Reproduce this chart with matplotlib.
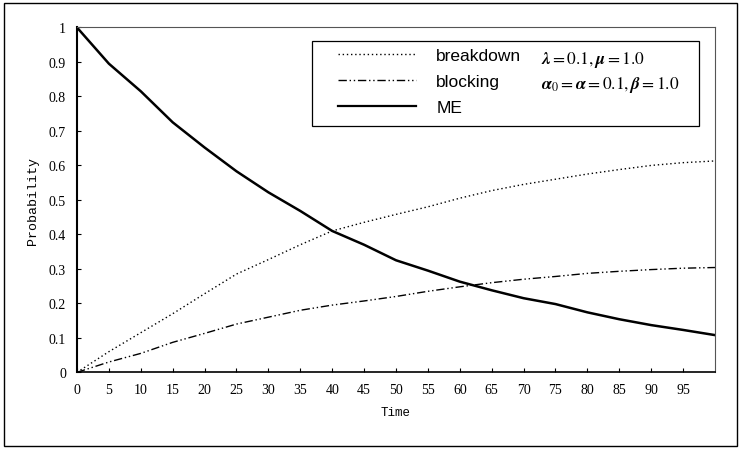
import numpy as np
import matplotlib
matplotlib.use("Agg")
import matplotlib.pyplot as plt
from matplotlib.lines import Line2D
from matplotlib.patches import Rectangle

plt.rcParams["mathtext.fontset"] = "stix"

# Time grid and the three probability curves
time = [0, 5, 10, 15, 20, 25, 30, 35, 40, 45, 50,
        55, 60, 65, 70, 75, 80, 85, 90, 95, 100]
me = [1.0, 0.895, 0.815, 0.725, 0.652, 0.583, 0.522, 0.468, 0.41, 0.37, 0.325,
      0.295, 0.263, 0.238, 0.215, 0.198, 0.174, 0.154, 0.137, 0.123, 0.108]
breakdown = [0.0, 0.06, 0.115, 0.17, 0.228, 0.285, 0.327, 0.37, 0.41, 0.435, 0.458,
             0.48, 0.505, 0.527, 0.545, 0.56, 0.575, 0.588, 0.6, 0.608, 0.613]
blocking = [0.0, 0.03, 0.055, 0.087, 0.113, 0.14, 0.16, 0.18, 0.195, 0.207, 0.22,
            0.235, 0.248, 0.26, 0.27, 0.278, 0.287, 0.293, 0.298, 0.302, 0.304]

xticks = list(range(0, 100, 5))
yticks = [0, 0.1, 0.2, 0.3, 0.4, 0.5, 0.6, 0.7, 0.8, 0.9, 1]
ytick_labels = ["0", "0.1", "0.2", "0.3", "0.4", "0.5", "0.6", "0.7", "0.8", "0.9", "1"]

DOT = (0, (1, 2))
DASHDOTDOT = (0, (6, 2, 1, 2, 1, 2))

fig = plt.figure(figsize=(7.41, 4.52), dpi=100)
ax = fig.add_axes([0.1039, 0.174, 0.861, 0.763])

ax.plot(time, breakdown, color="black", lw=1.0, ls=DOT)
ax.plot(time, blocking, color="black", lw=1.0, ls=DASHDOTDOT)
ax.plot(time, me, color="black", lw=1.8)

ax.set_xlim(0, 100)
ax.set_ylim(0, 1)
ax.set_xticks(xticks)
ax.set_xticklabels([str(t) for t in xticks], family="Liberation Serif", fontsize=10)
ax.set_yticks(yticks)
ax.set_yticklabels(ytick_labels, family="Liberation Serif", fontsize=10)
ax.tick_params(direction="in", length=3, width=0.8, pad=8)

ax.spines["left"].set_linewidth(1.5)
ax.spines["bottom"].set_linewidth(1.2)
for side in ("top", "right"):
    ax.spines[side].set_linewidth(0.8)
    ax.spines[side].set_color("#555555")

ax.set_xlabel("Time", family="Liberation Mono", fontsize=9, labelpad=7)
ax.set_ylabel("Probability", family="Liberation Mono", fontsize=9.5, labelpad=7)

# legend box with the parameter text inside
ax.add_patch(Rectangle((0.368, 0.713), 0.607, 0.247, transform=ax.transAxes,
                       fill=False, ec="black", lw=0.9, zorder=5))
handles = [Line2D([], [], color="black", lw=1.0, ls=DOT),
           Line2D([], [], color="black", lw=1.0, ls=DASHDOTDOT),
           Line2D([], [], color="black", lw=1.6)]
ax.legend(handles, ["breakdown", "blocking", "ME"], loc="upper left",
          bbox_to_anchor=(0.385, 0.985), frameon=False, handlelength=4.5,
          handletextpad=1.15, labelspacing=0.62,
          prop={"family": "Liberation Sans", "size": 12.5})

ax.text(0.727, 0.908, r"$\mathbfit{\lambda} = 0.1, \mathbfit{\mu} = 1.0$",
        transform=ax.transAxes, fontsize=12.5, va="center", ha="left")
ax.text(0.727, 0.836, r"$\mathbfit{\alpha}_0 = \mathbfit{\alpha} = 0.1, \mathbfit{\beta} = 1.0$",
        transform=ax.transAxes, fontsize=12.5, va="center", ha="left")

# outer frame around the whole picture
fig.add_artist(Rectangle((0.006, 0.012), 0.988, 0.979, transform=fig.transFigure,
                         fill=False, ec="black", lw=1.0))

fig.savefig("out.png", dpi=100)
